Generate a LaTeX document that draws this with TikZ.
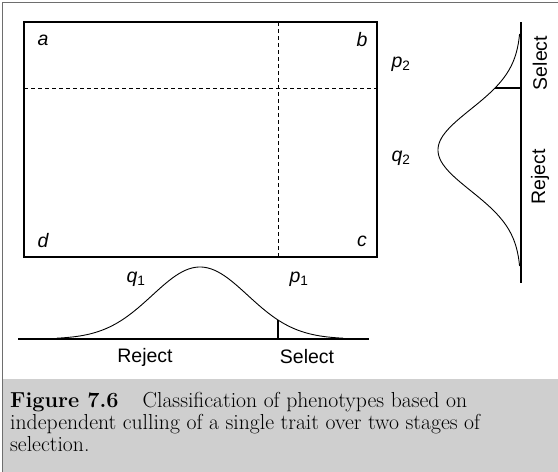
\documentclass[tikz,border=0pt]{standalone}
\usepackage{fontspec}
\setsansfont{Liberation Sans}
\usetikzlibrary{positioning,calc}
\definecolor{frameC}{RGB}{110,110,110}
\definecolor{capbgC}{RGB}{207,207,207}
\tikzset{
	corner/.style={font=\sffamily\itshape\fontsize{19.5}{21}\selectfont, inner sep=0pt},
	freq/.style={font=\sffamily\fontsize{19.5}{21}\selectfont, inner sep=0pt},
	choice/.style={font=\sffamily\fontsize{19.5}{21}\selectfont, inner sep=0pt},
	captext/.style={anchor=base west, inner sep=0pt, font=\fontsize{21.7}{22}\selectfont},
	divider/.style={dash pattern=on 4pt off 3pt, line width=0.9pt},
	curve/.style={line width=0.9pt, smooth},
	axis/.style={line width=1.1pt},
}
\begin{document}
\begin{tikzpicture}[x=1pt, y=-1pt]
	\useasboundingbox (0,0) rectangle (558,472);
	
	% ================= Frame and caption panel =================
	\fill[capbgC] (2.5,379) rectangle (558,472);
	\draw[frameC, line width=1pt] (558,2) -- (2,2) -- (2,472);
	
	% ================= Classification square =================
	\draw[line width=1.4pt] (24,22) rectangle (377,257);
	\draw[divider] (278,22) -- (278,257);
	\draw[divider] (24,88) -- (377,88);
	
	\node[corner] (a) at (43,40) {a};
	\node[corner] (b) at (362,40) {b};
	\node[corner] (c) at (362,241) {c};
	\node[corner] (d) at (43,241) {d};
	
	\node[freq] (p2) at (401,64) {\textit{p}\textsubscript{2}};
	\node[freq] (q2) at (401,158) {\textit{q}\textsubscript{2}};
	\node[freq] (q1) at (136,279) {\textit{q}\textsubscript{1}};
	\node[freq] (p1) at (299,279) {\textit{p}\textsubscript{1}};
	
	% ================= Stage 2 distribution (vertical) =================
	\draw[axis] (521,22) coordinate (ax2top) -- (521,283) coordinate (ax2bot);
	\draw[curve, domain=-11.6:11.6, samples=90]
	plot ({521-83*exp(-(\x*\x)/33.1)}, {150+10*\x});
	\coordinate (cut2) at (495,88);
	\draw[axis] (cut2) -- (cut2 -| ax2top);
	
	\node[choice, rotate=90] (sel2) at (540,63) {Select};
	\node[choice, rotate=90] (rej2) at (540,177) {Reject};
	
	% ================= Stage 1 distribution (horizontal) =================
	\draw[axis] (18,339) coordinate (ax1left) -- (369,339) coordinate (ax1right);
	\draw[curve, domain=-14.3:14.3, samples=90]
	plot ({200+10*\x}, {339-72*exp(-(\x*\x)/45.67)});
	\coordinate (cut1) at (278,320);
	\draw[axis] (cut1) -- (cut1 |- ax1left);
	
	\node[choice] (rej1) at (145,357) {Reject};
	\node[choice] (sel1) at (307,357) {Select};
	
	% ================= Caption =================
	\node[captext] (cap1) at (10,407)
	{\textbf{Figure 7.6}\hspace{24pt}Classification of phenotypes based on};
	\node[captext] (cap2) at (10,429)
	{independent culling of a single trait over two stages of};
	\node[captext] (cap3) at (10,451) {selection.};
	
\end{tikzpicture}
\end{document}
